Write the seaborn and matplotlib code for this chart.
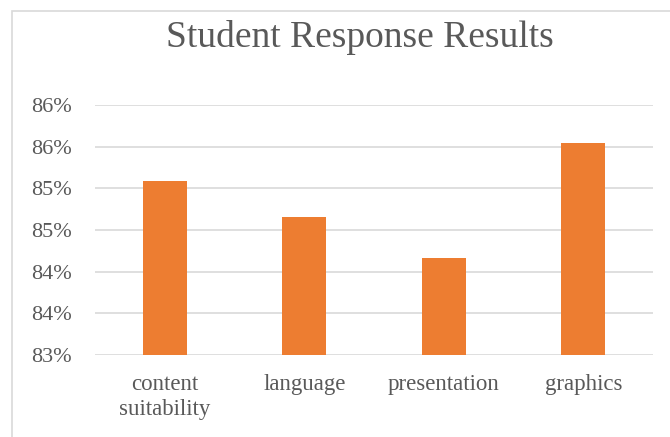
import matplotlib
matplotlib.use("Agg")
import matplotlib.pyplot as plt
import seaborn as sns
import pandas as pd
from matplotlib.patches import Rectangle

categories = ["content\nsuitability", "language", "presentation", "graphics"]
values = [85.09, 84.66, 84.16, 85.55]
yticks = [83.0, 83.5, 84.0, 84.5, 85.0, 85.5, 86.0]
ytick_labels = ["83%", "84%", "84%", "85%", "85%", "86%", "86%"]
title = "Student Response Results"

sns.set_theme(style="white")
plt.rcParams['font.family'] = ['Liberation Serif', 'DejaVu Serif']

W, H = 670, 437
fig = plt.figure(figsize=(W / 100, H / 100), dpi=100)
fig.patch.set_facecolor("white")

# chart area border
fig.add_artist(Rectangle((12 / W, -0.1), 1.2, 1 - 11 / H + 0.1, transform=fig.transFigure,
                         fill=False, edgecolor="#D9D9D9", linewidth=1.2))

ax = fig.add_axes([95 / W, (H - 355) / H, 558 / W, 250 / H])
df = pd.DataFrame({"cat": categories, "val": values})
sns.barplot(data=df, x="cat", y="val", color="#ED7D31", width=0.312, ax=ax,
            saturation=1, edgecolor="none")
ax.set_ylim(83, 86)
ax.set_xlim(-0.5, 3.5)
ax.set_yticks(yticks)
ax.set_yticklabels(ytick_labels)
ax.set_xlabel("")
ax.set_ylabel("")
for y in yticks:
    ax.axhline(y, color="#D9D9D9", linewidth=1.2, zorder=0)
for s in ax.spines.values():
    s.set_visible(False)
ax.tick_params(axis="y", length=0, pad=16.5, labelsize=16, labelcolor="#595959")
ax.tick_params(axis="x", length=0, pad=13.5, labelsize=16.5, labelcolor="#595959")
for lab in ax.get_xticklabels():
    lab.set_linespacing(1.25)
ax.set_axisbelow(True)

fig.text(360 / W, 1 - 47 / H, title, ha="center", va="baseline", fontsize=27, color="#595959")

fig.savefig("out.png", dpi=100, facecolor="white")
